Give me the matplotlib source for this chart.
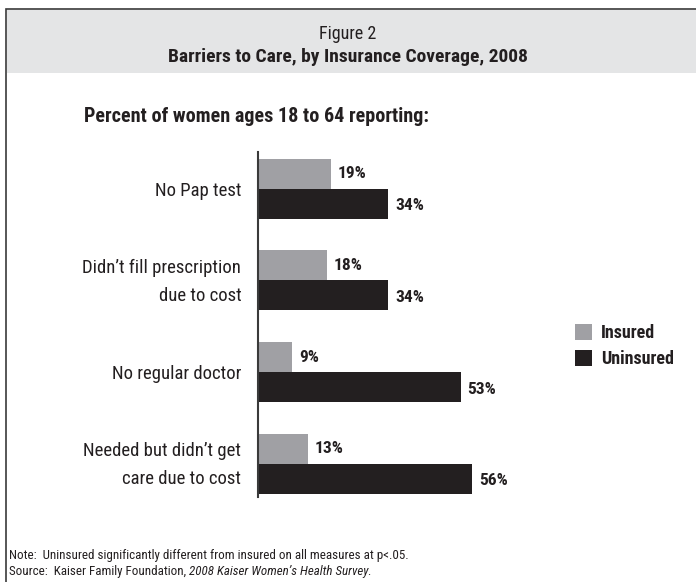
import matplotlib
matplotlib.use("Agg")
import matplotlib.pyplot as plt
import matplotlib.transforms as mtransforms
from matplotlib import font_manager
from matplotlib.patches import Rectangle

# pick a narrow font if one is installed
names = set(f.name for f in font_manager.fontManager.ttflist)
font = "DejaVu Sans"
for cand in ["Liberation Sans Narrow", "Roboto Condensed", "Open Sans Condensed", "DejaVu Sans"]:
    if cand in names:
        font = cand
        break
plt.rcParams["font.family"] = [font, "DejaVu Sans"]

categories = ["No Pap test", "Didn\u2019t fill prescription\ndue to cost",
              "No regular doctor", "Needed but didn\u2019t get\ncare due to cost"]
insured = [19, 18, 9, 13]
uninsured = [34, 34, 53, 56]
series = ["Insured", "Uninsured"]
gray = "#a0a0a4"
dark = "#231f20"

W, H = 696, 582
fig = plt.figure(figsize=(W / 100, H / 100), dpi=100)

def fx(px):
    return px / W

def fy(py):
    return 1 - py / H

# frame and title band
fig.patches.append(Rectangle((fx(6), fy(H + 5)), 1, fy(9) - fy(H + 5), transform=fig.transFigure,
                             facecolor="none", edgecolor="#3a3a3a", lw=1.2))
fig.patches.append(Rectangle((fx(7), fy(73)), 1, fy(10) - fy(73), transform=fig.transFigure,
                             facecolor="#e4e5e6", edgecolor="none"))
fig.text(0.5, fy(34), "Figure 2", ha="center", va="center", fontsize=13, color="#231f20")
fig.text(0.5, fy(57), "Barriers to Care, by Insurance Coverage, 2008", ha="center", va="center",
         fontsize=14, fontweight="bold", color="#231f20")
fig.text(fx(84), fy(117), "Percent of women ages 18 to 64 reporting:", ha="left", va="center",
         fontsize=14.5, fontweight="bold", color="#231f20")

# axes: x 258..564 (0..80%), y 152..497
ax = fig.add_axes([fx(258), fy(497), fx(564) - fx(258), fy(152) - fy(497)])
ax.set_xlim(0, 80)
ax.set_ylim(3.36, -0.40)
bh = 0.327
pos = list(range(len(categories)))
ax.barh([p - bh / 2 for p in pos], insured, height=bh, color=gray, label=series[0])
ax.barh([p + bh / 2 for p in pos], uninsured, height=bh, color=dark, label=series[1])
for p, a, b in zip(pos, insured, uninsured):
    ax.text(a + 1.8, p - bh / 2, f"{a}%", va="center", ha="left", fontsize=12.5,
            fontweight="bold", color="#231f20")
    ax.text(b + 1.8, p + bh / 2 + 0.02, f"{b}%", va="center", ha="left", fontsize=12.5,
            fontweight="bold", color="#231f20")
ax.set_yticks(pos)
ax.set_yticklabels(categories, fontsize=13.5, color="#231f20", linespacing=1.75)
ax.tick_params(axis="y", length=0, pad=12)
# two-line labels sit a bit high in the original
shift = mtransforms.ScaledTranslation(0, 6 / 100, fig.dpi_scale_trans)
for lab in ax.get_yticklabels():
    if "\n" in lab.get_text():
        lab.set_transform(lab.get_transform() + shift)
ax.set_xticks([])
for s in ["top", "right", "bottom"]:
    ax.spines[s].set_visible(False)
ax.spines["left"].set_color("#3a3a3a")
ax.spines["left"].set_linewidth(1.5)
ax.patch.set_alpha(0)

leg = fig.legend(loc="center left", bbox_to_anchor=(fx(566), fy(346)), frameon=False,
                 prop={"weight": "bold", "size": 13}, handlelength=0.95, handleheight=0.95,
                 handletextpad=0.5, labelspacing=0.45, borderpad=0)
for t in leg.get_texts():
    t.set_color("#231f20")

fig.text(fx(9), fy(556), "Note:  Uninsured significantly different from insured on all measures at p<.05.",
         ha="left", va="center", fontsize=9.4, color="#231f20")
fig.text(fx(9), fy(572), "Source:  Kaiser Family Foundation, ", ha="left", va="center",
         fontsize=9.4, color="#231f20")
src = fig.texts[-1]
fig.canvas.draw()
bb = src.get_window_extent()
fig.text(bb.x1 / (W), fy(572), "2008 Kaiser Women\u2019s Health Survey.", ha="left", va="center",
         fontsize=9.4, style="italic", color="#231f20")

fig.savefig("out.png", dpi=100)
